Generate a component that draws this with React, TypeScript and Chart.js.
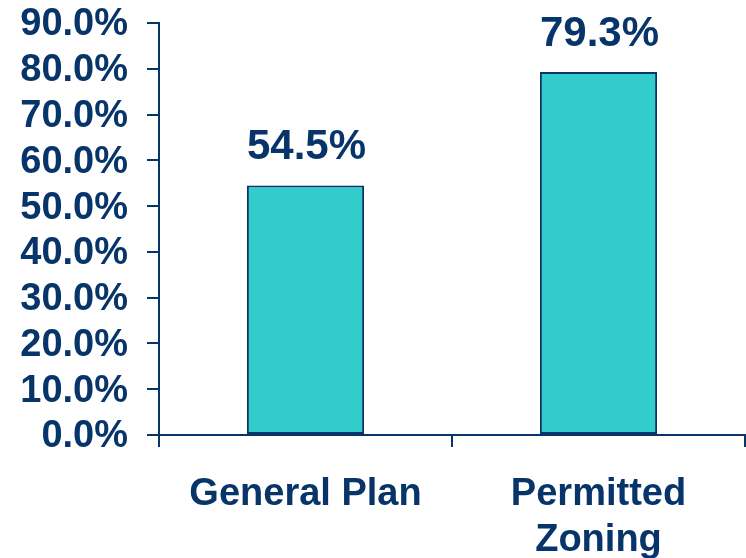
import React, { useEffect, useRef } from "react";
import { Chart, registerables } from "chart.js";

Chart.register(...registerables);

const categories: (string | string[])[] = ["General Plan", ["Permitted", "Zoning"]];
const values: number[] = [54.5, 79.3];
const valueLabels: string[] = ["54.5%", "79.3%"];

const NAVY = "#07356A";
const TEAL = "#33CCCC";
const FONT = "'Liberation Sans', Arial, sans-serif";

const labelPlugin = {
  id: "valueLabels",
  afterDatasetsDraw(chart: any) {
    const ctx = chart.ctx;
    const meta = chart.getDatasetMeta(0);
    ctx.save();
    ctx.fillStyle = NAVY;
    ctx.font = `bold 42px ${FONT}`;
    ctx.textAlign = "center";
    ctx.textBaseline = "middle";
    meta.data.forEach((bar: any, i: number) => {
      ctx.fillText(valueLabels[i], bar.x + 1, bar.y - 38);
    });
    ctx.restore();
  },
};

export default function App() {
  const ref = useRef<HTMLCanvasElement | null>(null);
  useEffect(() => {
    if (!ref.current) return;
    const chart = new Chart(ref.current, {
      type: "bar",
      data: {
        labels: categories as any,
        datasets: [
          {
            data: values,
            backgroundColor: TEAL,
            borderColor: NAVY,
            borderWidth: 2,
            borderSkipped: false,
            barPercentage: 0.4,
            categoryPercentage: 1,
          },
        ],
      },
      options: {
        animation: false,
        responsive: false,
        maintainAspectRatio: false,
        layout: { padding: { top: 23, right: 1, left: 0, bottom: 0 } },
        plugins: { legend: { display: false }, tooltip: { enabled: false } },
        scales: {
          x: {
            afterFit: (s: any) => {
              s.height = 123;
              s.paddingLeft = 0;
              s.paddingRight = 0;
            },
            grid: {
              display: true,
              offset: true,
              drawOnChartArea: false,
              drawTicks: true,
              tickLength: 12,
              color: NAVY,
              lineWidth: 2,
            },
            border: { display: true, color: NAVY, width: 2 },
            ticks: {
              color: NAVY,
              font: { family: FONT, size: 38, weight: "bold", lineHeight: 1.22 },
              padding: 24,
              maxRotation: 0,
              autoSkip: false,
            },
          },
          y: {
            min: 0,
            max: 90,
            afterFit: (s: any) => {
              s.width = 159;
              s.paddingTop = 0;
              s.paddingBottom = 0;
            },
            grid: {
              display: true,
              drawOnChartArea: false,
              drawTicks: true,
              tickLength: 12,
              color: NAVY,
              lineWidth: 2,
            },
            border: { display: true, color: NAVY, width: 2 },
            ticks: {
              stepSize: 10,
              autoSkip: false,
              color: NAVY,
              padding: 19,
              labelOffset: 2,
              font: { family: FONT, size: 38, weight: "bold" },
              callback: (v: any) => Number(v).toFixed(1) + "%",
            },
          },
        },
      },
      plugins: [labelPlugin],
    });
    return () => chart.destroy();
  }, []);
  return (
    <div style={{ position: "fixed", left: 0, top: 0, width: 746, height: 558, background: "#fff" }}>
      <canvas ref={ref} width={746} height={558} style={{ width: 746, height: 558, display: "block" }} />
    </div>
  );
}
